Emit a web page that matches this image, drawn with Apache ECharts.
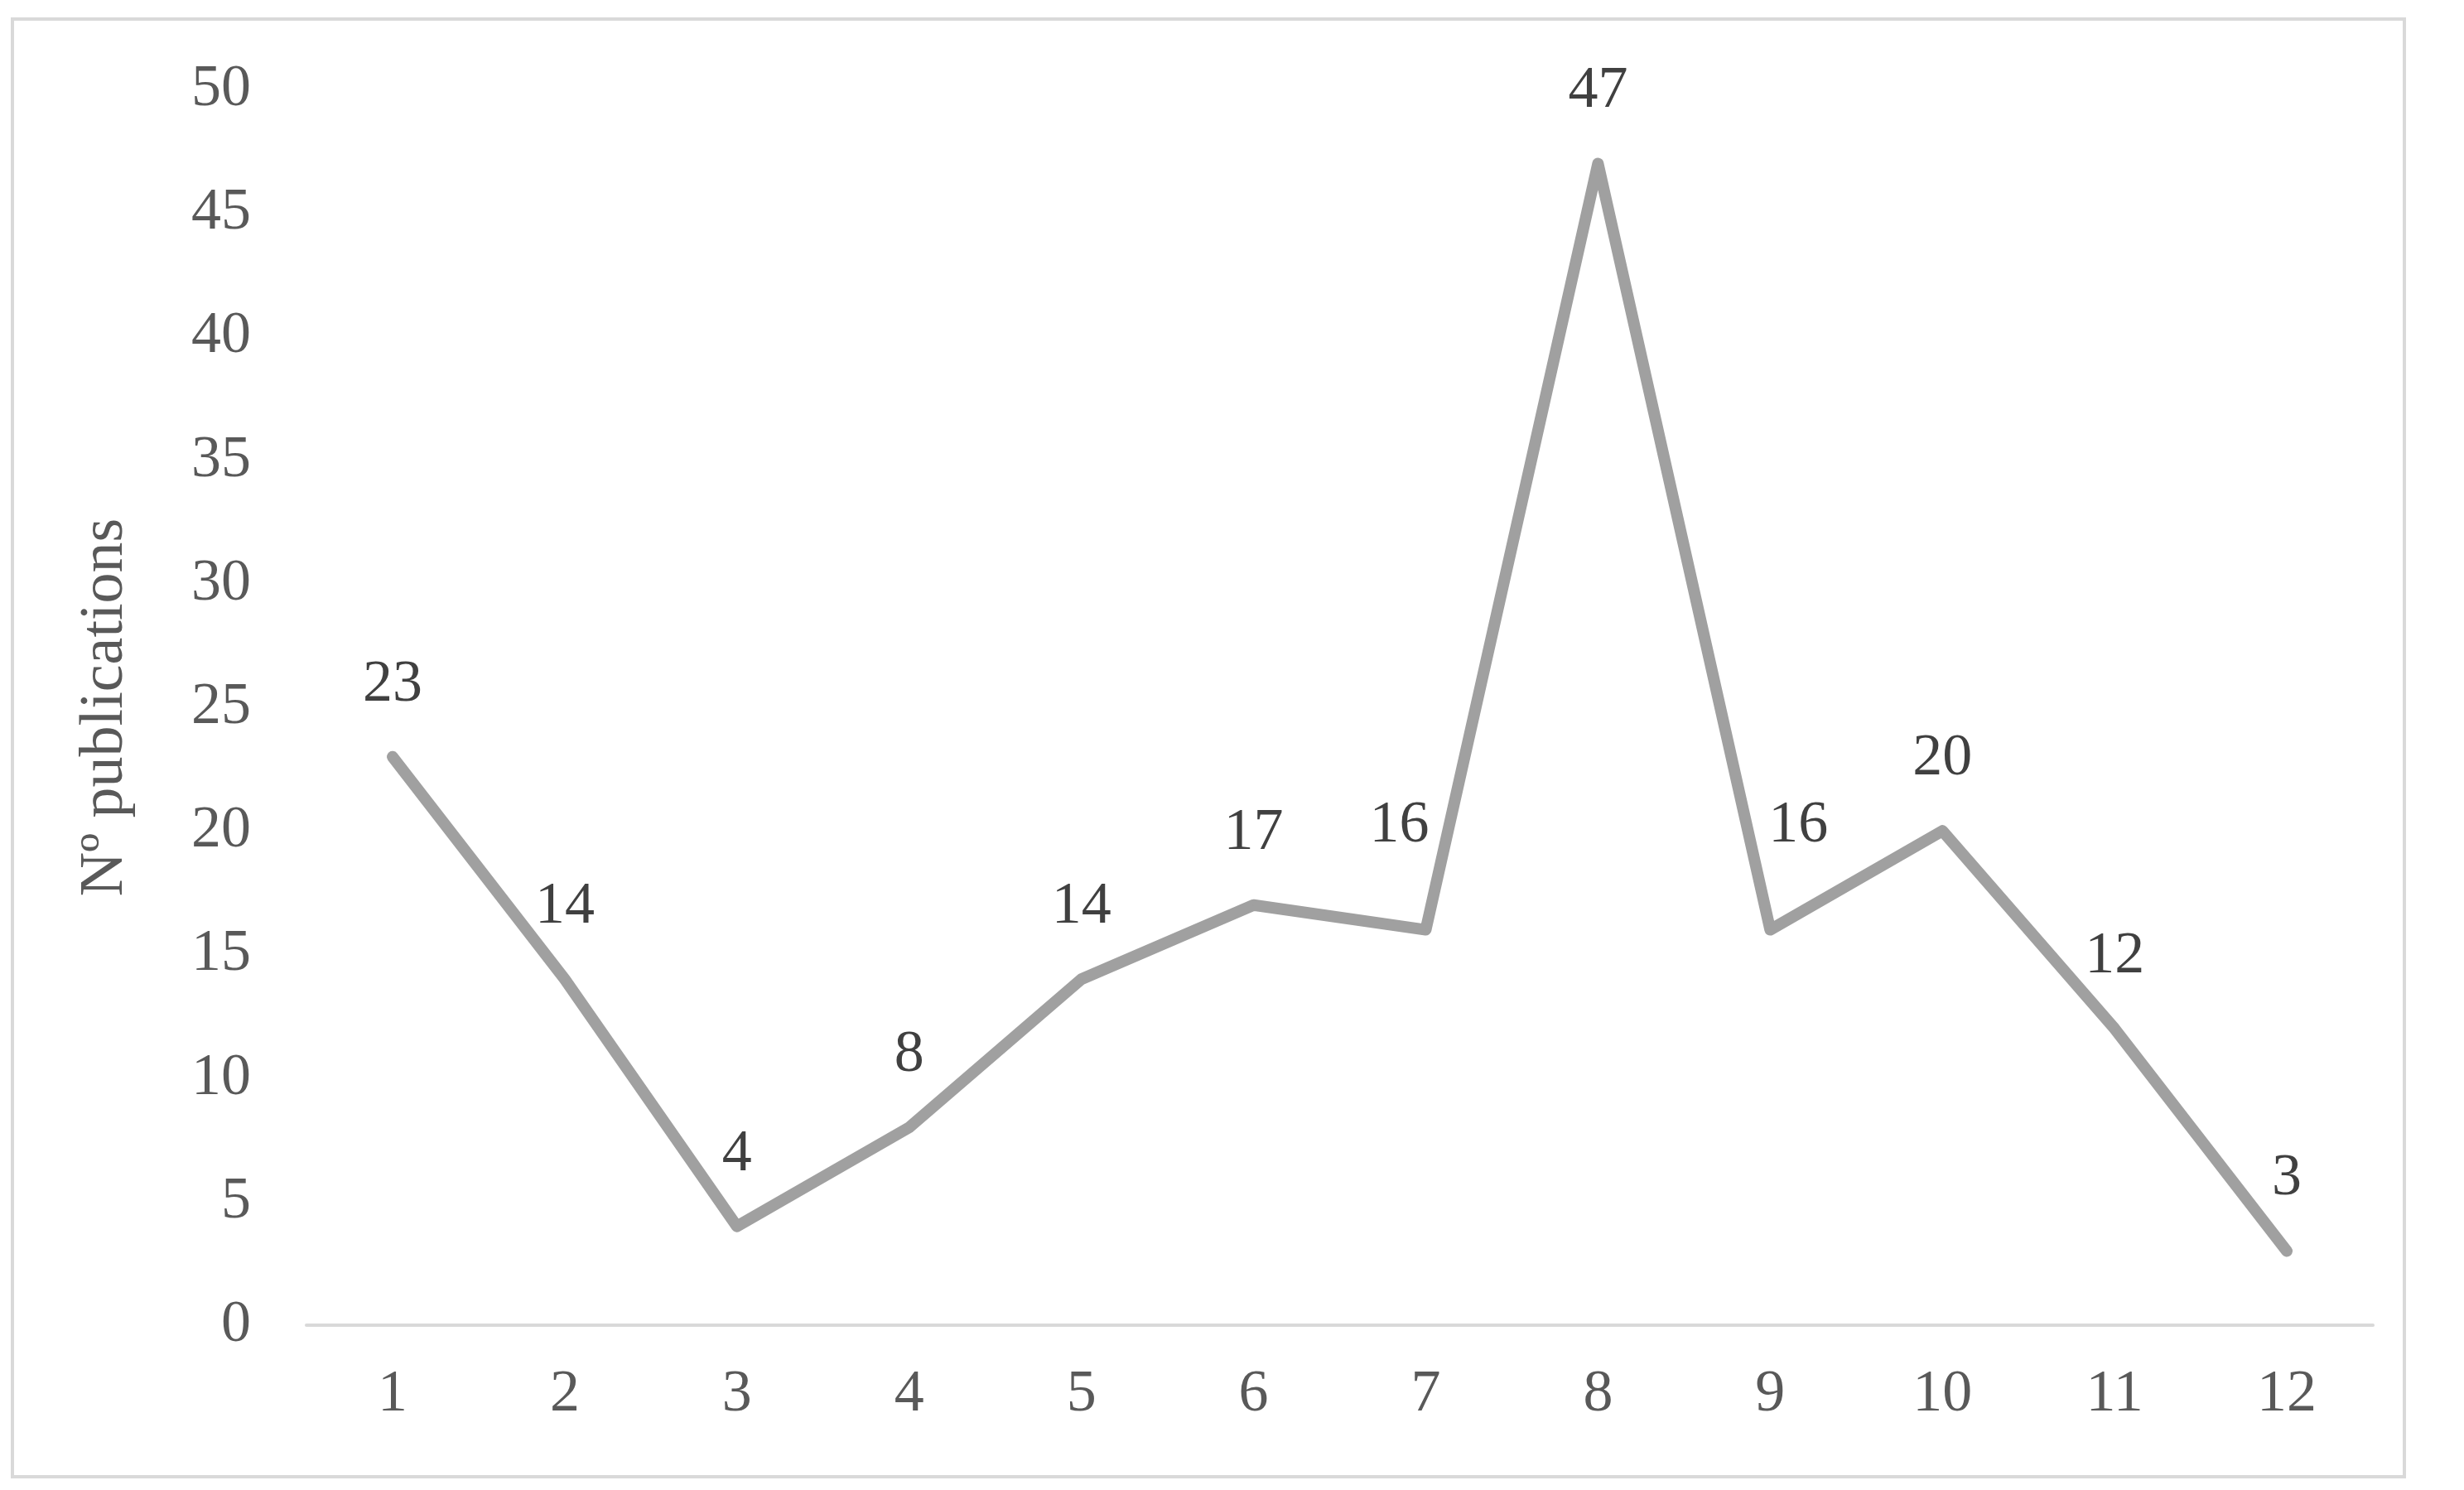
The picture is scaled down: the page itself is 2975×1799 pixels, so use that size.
<!DOCTYPE html>
<html>
<head>
<meta charset="utf-8">
<script src="https://cdn.jsdelivr.net/npm/echarts@6/dist/echarts.min.js"></script>
<style>
  html, body { margin: 0; padding: 0; background: #fff; }
  #chart { width: 2975px; height: 1799px; }
</style>
</head>
<body>
<div id="chart"></div>
<script>
const categories = ["1", "2", "3", "4", "5", "6", "7", "8", "9", "10", "11", "12"];
const publications = [23, 14, 4, 8, 14, 17, 16, 47, 16, 20, 12, 3];
const yTicks = [0, 50, 5]; // min, max, interval

const serif = '"Liberation Serif", "Times New Roman", serif';

const chart = echarts.init(document.getElementById("chart"));

// a few labels sit beside the point instead of straight above
const labelShift = { 6: [-32, -38], 8: [34, -38] };

const seriesData = publications.map((v, i) => {
  const item = { value: v };
  if (labelShift[i]) item.label = { show: true, offset: labelShift[i] };
  return item;
});

const option = {
  animation: false,
  backgroundColor: "#fff",
  graphic: [
    {
      type: "rect",
      shape: { x: 15, y: 23, width: 2888, height: 1760 },
      style: { fill: "none", stroke: "#d9d9d9", lineWidth: 4 },
    },
  ],
  grid: {
    left: 370,
    right: 110,
    top: 108,
    bottom: 199,
  },
  xAxis: {
    type: "category",
    data: categories,
    boundaryGap: true,
    axisLine: { lineStyle: { color: "#d9d9d9", width: 4 } },
    axisTick: { show: false },
    axisLabel: {
      margin: 48,
      fontFamily: serif,
      fontSize: 72,
      color: "#595959",
    },
  },
  yAxis: {
    type: "value",
    min: yTicks[0],
    max: yTicks[1],
    interval: yTicks[2],
    name: "Nº publications",
    nameLocation: "middle",
    nameGap: 205,
    nameTextStyle: {
      fontFamily: serif,
      fontSize: 74,
      color: "#595959",
    },
    axisLine: { show: false },
    axisTick: { show: false },
    splitLine: { show: false },
    axisLabel: {
      margin: 67,
      fontFamily: serif,
      fontSize: 72,
      color: "#595959",
    },
  },
  series: [
    {
      type: "line",
      data: seriesData,
      symbol: "circle",
      symbolSize: 2,
      showSymbol: true,
      itemStyle: { color: "#a0a0a0" },
      lineStyle: { color: "#a0a0a0", width: 14, cap: "round", join: "round" },
      label: {
        show: true,
        position: "top",
        distance: 50,
        fontFamily: serif,
        fontSize: 72,
        color: "#404040",
      },
    },
  ],
};

chart.setOption(option);
</script>
</body>
</html>
